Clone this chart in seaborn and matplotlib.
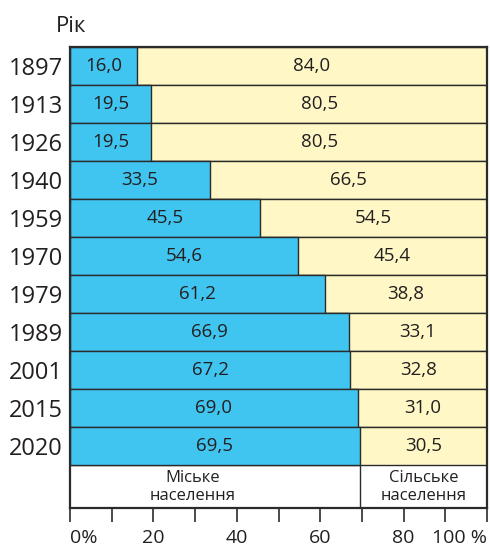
import matplotlib
matplotlib.use("Agg")
import matplotlib.pyplot as plt
import seaborn as sns
import pandas as pd

# ---- data ----
years = ['1897', '1913', '1926', '1940', '1959', '1970', '1979', '1989', '2001', '2015', '2020']
urban = [16.0, 19.5, 19.5, 33.5, 45.5, 54.6, 61.2, 66.9, 67.2, 69.0, 69.5]
rural = [84.0, 80.5, 80.5, 66.5, 54.5, 45.4, 38.8, 33.1, 32.8, 31.0, 30.5]
urban_label = 'Міське\nнаселення'
rural_label = 'Сільське\nнаселення'
y_title = 'Рік'
x_ticks = [0, 10, 20, 30, 40, 50, 60, 70, 80, 90, 100]
x_tick_labels = ['0%', '', '20', '', '40', '', '60', '', '80', '', '100 %']

# ---- style ----
sns.set_theme(style='white')
plt.rcParams['font.family'] = ['Open Sans', 'DejaVu Sans']
BLUE = '#40C4F0'
YELLOW = '#FFF8C6'
EDGE = '#2b2b2b'
TXT = '#231f20'

df = pd.DataFrame({'year': years, 'urban': urban, 'rural': rural})
df['total'] = df['urban'] + df['rural']

fig = plt.figure(figsize=(4.9, 5.47), dpi=100)
ax = fig.add_axes([70 / 490, 39 / 547, 417 / 490, 461 / 547])

sns.barplot(data=df, x='total', y='year', order=years, orient='h', color=YELLOW,
            saturation=1, width=1, edgecolor=EDGE, linewidth=1, ax=ax)
sns.barplot(data=df, x='urban', y='year', order=years, orient='h', color=BLUE,
            saturation=1, width=1, edgecolor=EDGE, linewidth=1, ax=ax)

def fmt(v):
    return f'{v:.1f}'.replace('.', ',')

for i, (u, r) in enumerate(zip(urban, rural)):
    ax.text(u / 2, i, fmt(u), ha='center', va='center', fontsize=13.5, color=TXT)
    ax.text(u + r / 2, i, fmt(r), ha='center', va='center', fontsize=13.5, color=TXT)

n = len(years)
bottom = n - 0.5 + 1.13
ax.set_xlim(0, 100)
ax.set_ylim(bottom, -0.5)
ax.vlines(urban[-1], n - 0.5, bottom, color=EDGE, lw=1)
ax.text(urban[-1] * 0.425, n - 0.5 + 0.57, urban_label, ha='center', va='center',
        fontsize=12, color=TXT, linespacing=1.15)
ax.text((urban[-1] + 100) / 2, n - 0.5 + 0.57, rural_label, ha='center', va='center',
        fontsize=12, color=TXT, linespacing=1.15)

ax.set_xlabel('')
ax.set_ylabel('')
ax.set_xticks(x_ticks)
ax.set_xticklabels(x_tick_labels, fontsize=14, color=TXT)
tl = ax.get_xticklabels()
tl[0].set_horizontalalignment('left')
tl[-1].set_horizontalalignment('right')
ax.tick_params(axis='x', direction='out', length=10, width=1.2, color=EDGE, pad=5, bottom=True)
ax.tick_params(axis='y', length=0, pad=5, labelsize=17, labelcolor=TXT)

for s in ax.spines.values():
    s.set_visible(True)
    s.set_color(EDGE)
    s.set_linewidth(1.6)

fig.text(71 / 490, 1 - 26 / 547, y_title, ha='center', va='center', fontsize=16, color=TXT)

fig.savefig('out.png', dpi=100)
